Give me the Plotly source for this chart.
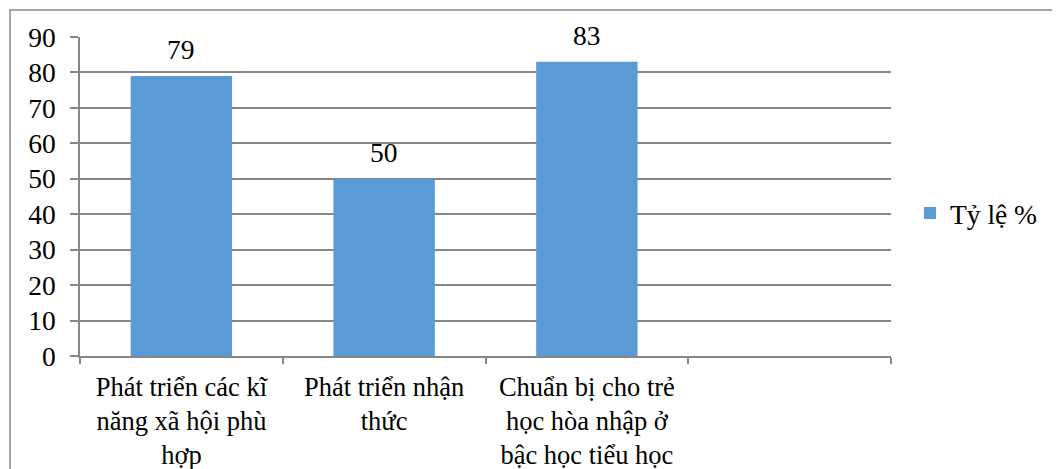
import plotly.graph_objects as go

categories = ["Phát triển các kĩ<br>năng xã hội phù<br>hợp",
              "Phát triển nhận<br>thức",
              "Chuẩn bị cho trẻ<br>học hòa nhập ở<br>bậc học tiểu học",
              " "]
values = [79, 50, 83, None]
series_name = "Tỷ lệ %"
y_ticks = [0, 10, 20, 30, 40, 50, 60, 70, 80, 90]

FONT = "Liberation Serif, Times New Roman, serif"
FS = 27.5
GRID = "#868686"
BAR = "#5B9BD5"

fig = go.Figure()
fig.add_trace(go.Bar(
    x=categories, y=values, name=series_name,
    marker=dict(color=BAR, line=dict(width=0)),
    width=0.5, showlegend=True,
))
for c, v in zip(categories, values):
    if v is None:
        continue
    fig.add_annotation(x=c, y=v, text=str(v), showarrow=False,
                       yanchor="bottom", yshift=9,
                       font=dict(family=FONT, size=FS, color="black"))

fig.update_layout(
    width=1060, height=469,
    margin=dict(l=72, r=177, t=29, b=121, autoexpand=False),
    paper_bgcolor="white", plot_bgcolor="white",
    font=dict(family=FONT, size=FS, color="black"),
    bargap=0.5,
    showlegend=True,
    legend=dict(x=1.0234, y=0.448, xanchor="left", yanchor="middle",
                font=dict(family=FONT, size=FS, color="black"),
                bgcolor="rgba(0,0,0,0)", itemwidth=30),
    xaxis=dict(type="category", categoryorder="array", categoryarray=categories,
               tickson="boundaries", ticks="outside", ticklen=6, tickwidth=1.5,
               tickcolor=GRID, showline=True, linecolor=GRID, linewidth=1.5,
               showgrid=False, range=[-0.5, 3.5], fixedrange=True,
               automargin=False, ticklabelstandoff=6,
               tickfont=dict(family=FONT, size=26.5, color="black")),
    yaxis=dict(range=[0, 90], tickvals=y_ticks, ticks="outside", ticklen=8,
               tickwidth=1.5, tickcolor=GRID, showline=True, linecolor=GRID,
               linewidth=1.5, showgrid=True, gridcolor=GRID, gridwidth=1.5,
               zeroline=False, ticklabelstandoff=9, automargin=False,
               tickfont=dict(family=FONT, size=FS, color="black")),
)
fig.add_shape(type="rect", xref="paper", yref="paper",
              x0=-0.0863, x1=2.0, y0=-1.0, y1=1.0846,
              line=dict(color=GRID, width=1.5), fillcolor="rgba(0,0,0,0)", layer="below")
fig.write_html("out.html")
